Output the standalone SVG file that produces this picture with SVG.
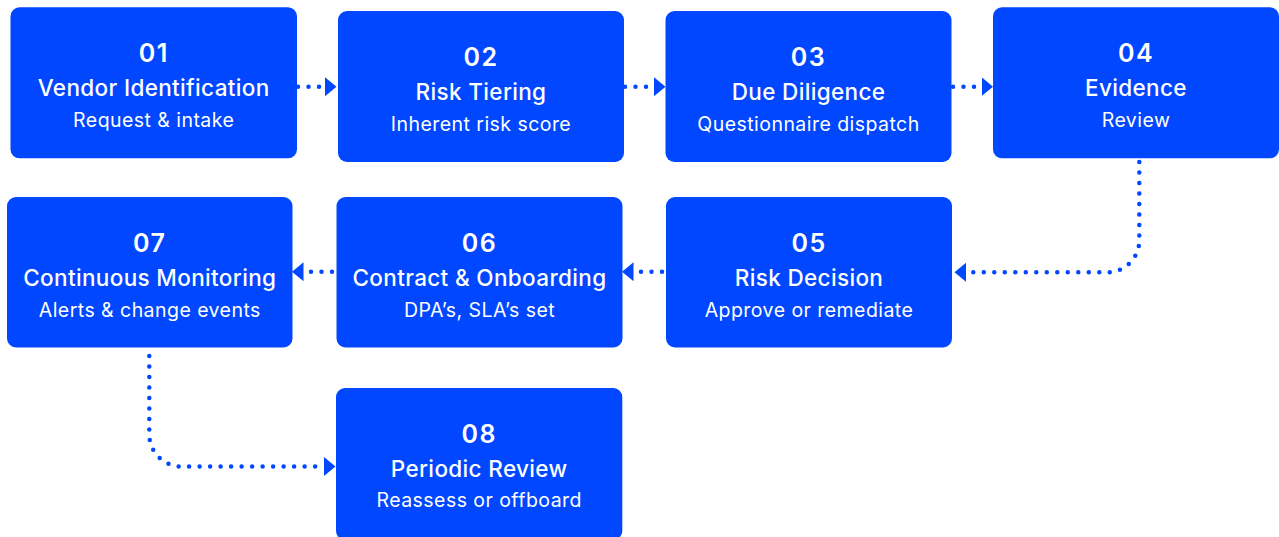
<svg xmlns="http://www.w3.org/2000/svg" width="1279" height="537" viewBox="0 0 1279 537">
  <style>
    .box { fill: #0047FF; }
    .num { font-family: Inter, "Noto Sans", "Liberation Sans", sans-serif; font-weight: 600; font-size: 25px; letter-spacing: 1.5px; fill: #FFFFFF; text-anchor: middle; }
    .title { font-family: Inter, "Noto Sans", "Liberation Sans", sans-serif; font-weight: 500; font-size: 22.5px; letter-spacing: 0.35px; fill: #FFFFFF; text-anchor: middle; }
    .sub { font-family: Inter, "Noto Sans", "Liberation Sans", sans-serif; font-weight: 400; font-size: 19.5px; letter-spacing: 0.45px; fill: #FFFFFF; text-anchor: middle; }
    .link { fill: none; stroke: #0047FF; stroke-width: 4.5; stroke-linecap: round; stroke-dasharray: 0 10.5; marker-end: url(#head); }
  </style>
  <defs>
    <marker id="head" markerUnits="userSpaceOnUse" markerWidth="13" markerHeight="20" refX="0" refY="9.5" orient="auto">
      <path d="M0,0 L11.5,9.5 L0,19 Z" fill="#0047FF"/>
    </marker>
  </defs>

  <rect width="1279" height="537" fill="#FFFFFF"/>

  <!-- connectors -->
  <g id="connectors">
    <path class="link" d="M298 86.7 H325"/>
    <path class="link" d="M625 86.7 H654"/>
    <path class="link" d="M953 86.7 H981.5"/>
    <path class="link" d="M1139.3 162 V240.3 A32 32 0 0 1 1107.3 272.3 H966"/>
    <path class="link" d="M662 271.7 H633.5"/>
    <path class="link" d="M332 271.7 H303.5"/>
    <path class="link" d="M149.3 356 V434.5 A32 32 0 0 0 181.3 466.5 H324"/>
  </g>

  <!-- steps -->
  <g id="step-01">
    <rect class="box" x="10.5" y="7.3" width="286.5" height="151" rx="9"/>
    <text class="num" x="153.7" y="62">01</text>
    <text class="title" x="153.7" y="96">Vendor Identification</text>
    <text class="sub" x="153.7" y="127">Request &amp; intake</text>
  </g>
  <g id="step-02">
    <rect class="box" x="338" y="11" width="286" height="151" rx="9"/>
    <text class="num" x="481" y="65.5">02</text>
    <text class="title" x="481" y="99.5">Risk Tiering</text>
    <text class="sub" x="481" y="130.5">Inherent risk score</text>
  </g>
  <g id="step-03">
    <rect class="box" x="665.5" y="11" width="286" height="151" rx="9"/>
    <text class="num" x="808.5" y="65.5">03</text>
    <text class="title" x="808.5" y="99.5">Due Diligence</text>
    <text class="sub" x="808.5" y="130.5">Questionnaire dispatch</text>
  </g>
  <g id="step-04">
    <rect class="box" x="993" y="7.3" width="286" height="151" rx="9"/>
    <text class="num" x="1136" y="62">04</text>
    <text class="title" x="1136" y="96">Evidence</text>
    <text class="sub" x="1136" y="127">Review</text>
  </g>
  <g id="step-05">
    <rect class="box" x="666" y="197" width="286" height="150.5" rx="9"/>
    <text class="num" x="809" y="251.5">05</text>
    <text class="title" x="809" y="285.5">Risk Decision</text>
    <text class="sub" x="809" y="316.5">Approve or remediate</text>
  </g>
  <g id="step-06">
    <rect class="box" x="336.5" y="197" width="286" height="150.5" rx="9"/>
    <text class="num" x="479.5" y="251.5">06</text>
    <text class="title" x="479.5" y="285.5">Contract &amp; Onboarding</text>
    <text class="sub" x="479.5" y="316.5">DPA’s, SLA’s set</text>
  </g>
  <g id="step-07">
    <rect class="box" x="7" y="197" width="285.5" height="150.5" rx="9"/>
    <text class="num" x="149.8" y="251.5">07</text>
    <text class="title" x="149.8" y="285.5">Continuous Monitoring</text>
    <text class="sub" x="149.8" y="316.5">Alerts &amp; change events</text>
  </g>
  <g id="step-08">
    <rect class="box" x="336" y="388" width="286.3" height="152" rx="9"/>
    <text class="num" x="479.2" y="442.5">08</text>
    <text class="title" x="479.2" y="476.5">Periodic Review</text>
    <text class="sub" x="479.2" y="507">Reassess or offboard</text>
  </g>
</svg>
